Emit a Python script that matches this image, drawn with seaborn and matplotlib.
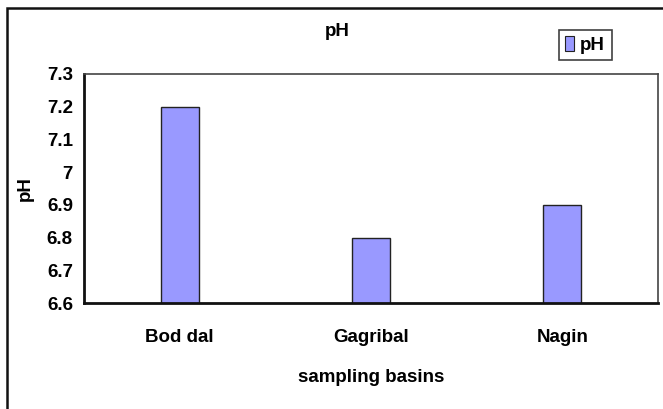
import matplotlib
matplotlib.use("Agg")
import matplotlib.pyplot as plt
from matplotlib.patches import Rectangle, Patch
from matplotlib.ticker import FixedLocator, FuncFormatter
import seaborn as sns
import pandas as pd

# Mean pH per sampling basin
basins = ["Bod dal", "Gagribal", "Nagin"]
ph_values = [7.2, 6.8, 6.9]
y_ticks = [6.6, 6.7, 6.8, 6.9, 7.0, 7.1, 7.2, 7.3]

df = pd.DataFrame({"basin": basins, "pH": ph_values})

sns.set_style("white")
plt.rcParams["font.family"] = ["Liberation Sans", "DejaVu Sans"]
plt.rcParams["font.weight"] = "bold"
for key in ("text.color", "axes.labelcolor", "xtick.color", "ytick.color"):
    plt.rcParams[key] = "black"

BAR = "#9999FF"
FS = 13.5

fig = plt.figure(figsize=(6.63, 4.09), dpi=100)
ax = fig.add_axes([84 / 663, 1 - 303 / 409, 574 / 663, 229 / 409])

sns.barplot(data=df, x="basin", y="pH", color=BAR, width=0.2,
            edgecolor="#222222", linewidth=1.0, saturation=1, ax=ax)

ax.set_ylim(6.6, 7.3)
ax.set_xlim(-0.5, len(basins) - 0.5)
ax.yaxis.set_major_locator(FixedLocator(y_ticks))
ax.yaxis.set_major_formatter(FuncFormatter(lambda v, p: f"{v:g}"))

# Category labels sit between boundary tick marks
ax.set_xticks(range(len(basins)))
ax.set_xticklabels(basins)
ax.set_xticks([i - 0.5 for i in range(len(basins) + 1)], minor=True)
ax.tick_params(axis="x", which="major", length=0, pad=19, labelsize=FS)
ax.tick_params(axis="x", which="minor", length=7, width=1.2, color="#111111",
               direction="out")
ax.tick_params(axis="y", which="major", length=5, width=1.2, color="#111111",
               direction="out", pad=3, labelsize=FS)
for lab in ax.get_xticklabels() + ax.get_yticklabels():
    lab.set_fontweight("bold")

ax.set_xlabel("sampling basins", fontsize=FS, fontweight="bold", labelpad=16)
ax.set_ylabel("pH", fontsize=FS, fontweight="bold", labelpad=9)

for side in ("left", "bottom"):
    ax.spines[side].set_color("#111111")
    ax.spines[side].set_linewidth(2.0)
for side in ("top", "right"):
    ax.spines[side].set_visible(True)
    ax.spines[side].set_color("#444444")
    ax.spines[side].set_linewidth(1.2)

fig.text(337 / 663, 1 - 32 / 409, "pH", ha="center", va="center",
         fontsize=FS, fontweight="bold")

leg = fig.legend(handles=[Patch(facecolor=BAR, edgecolor="#222222", linewidth=0.8,
                                label="pH")],
                 loc="center", bbox_to_anchor=(585 / 663, 1 - 45 / 409),
                 frameon=True, fancybox=False, handlelength=0.5, handleheight=0.8,
                 handletextpad=0.3, borderpad=0.35, prop={"size": FS, "weight": "bold"})
leg.get_frame().set_edgecolor("#111111")
leg.get_frame().set_linewidth(1.2)

# Chart-area border (open on the right and bottom edges)
fig.patches.append(Rectangle((7 / 663, -0.05), 1.1, 1 - 8 / 409 + 0.05,
                             transform=fig.transFigure, fill=False,
                             edgecolor="#111111", linewidth=1.8))

fig.savefig("out.png", dpi=100)
